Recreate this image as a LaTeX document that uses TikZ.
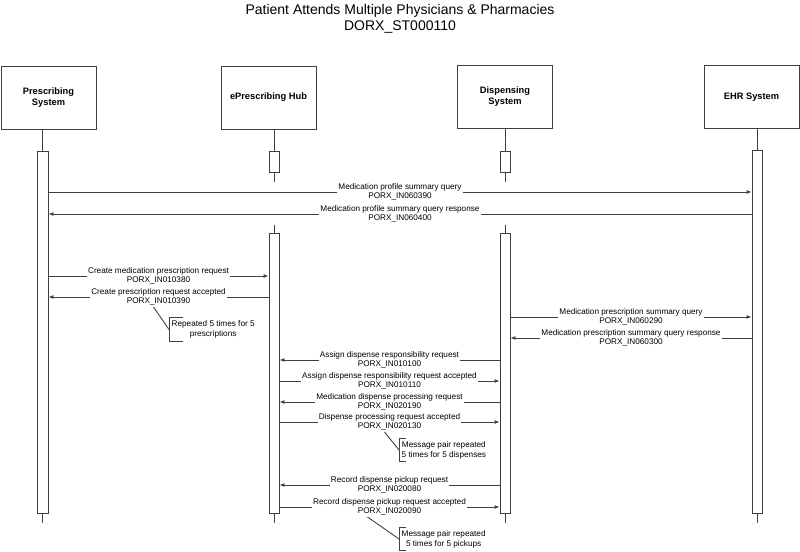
\documentclass[tikz,border=0pt]{standalone}
\usepackage{fontspec}
\setmainfont{Liberation Sans}
\usetikzlibrary{arrows.meta}
\definecolor{lc}{RGB}{64,64,64}
\begin{document}
\begin{tikzpicture}[x=1bp,y=-1bp,
 ln/.style={draw=lc, line width=0.9bp},
 hdr/.style={ln, minimum width=95bp, minimum height=63bp, inner sep=0pt, align=center, font=\fontsize{9.3bp}{11bp}\selectfont\bfseries},
 bar/.style={ln, fill=white, minimum width=10bp, inner sep=0pt},
 msg/.style={ln, -{Latex[length=5bp,width=4bp]}},
 lbl/.style={fill=white, inner xsep=1bp, inner ysep=1bp, align=center, font=\fontsize{8.2bp}{9.5bp}\selectfont},
 note/.style={anchor=west, minimum height=23bp, inner xsep=2.5bp, inner ysep=0pt, align=center, font=\fontsize{8.2bp}{10bp}\selectfont},
]
\useasboundingbox (0,0) rectangle (800,552);

% title
\node[align=center, font=\fontsize{14bp}{16bp}\selectfont] (title) at (400,19)
  {Patient Attends Multiple Physicians \& Pharmacies\\DORX\_ST000110};

% headers
\node[hdr] (ph) at (48.5,97.5) {Prescribing\\System};
\node[hdr] (hh) at (268.5,97.5) {ePrescribing Hub};
\node[hdr] (dh) at (505,97) {Dispensing\\System};
\node[hdr] (eh) at (751.5,97) {EHR System};

% activation bars
\node[bar, minimum width=11bp, minimum height=362bp] (pb) at (42.5,332) {};
\node[bar, minimum height=363bp] (eb) at (757,331.5) {};
\node[bar, minimum height=21bp] (hb1) at (274,161.5) {};
\node[bar, minimum height=21bp] (db1) at (505,162) {};
\node[bar, minimum height=280bp] (hb2) at (274,373) {};
\node[bar, minimum height=280bp] (db2) at (505,373) {};

% lifeline free ends
\coordinate (pe) at (42.5,523);
\coordinate (ee) at (757,523);
\coordinate (h1e) at (274,182);
\coordinate (d1e) at (505,182);
\coordinate (h2s) at (274,225);
\coordinate (d2s) at (505,225);
\coordinate (he) at (274,523);
\coordinate (de) at (505,523);

% lifelines
\draw[ln] (ph.south -| pb) -- (pb.north);
\draw[ln] (pb.south) -- (pe);
\draw[ln] (eh.south -| eb) -- (eb.north);
\draw[ln] (eb.south) -- (ee);
\draw[ln] (hh.south -| hb1) -- (hb1.north);
\draw[ln] (hb1.south) -- (h1e);
\draw[ln] (h2s) -- (hb2.north);
\draw[ln] (hb2.south) -- (he);
\draw[ln] (dh.south -| db1) -- (db1.north);
\draw[ln] (db1.south) -- (d1e);
\draw[ln] (d2s) -- (db2.north);
\draw[ln] (db2.south) -- (de);

% message levels
\coordinate (y1) at (0,192);
\coordinate (y2) at (0,214);
\coordinate (y3) at (0,276);
\coordinate (y4) at (0,297);
\coordinate (y5) at (0,317);
\coordinate (y6) at (0,338);
\coordinate (y7) at (0,360);
\coordinate (y8) at (0,381);
\coordinate (y9) at (0,402);
\coordinate (y10) at (0,422);
\coordinate (y11) at (0,485);
\coordinate (y12) at (0,507);

% messages
\draw[msg] (pb.east |- y1) -- node[lbl] (l1) {Medication profile summary query\\PORX\_IN060390} (eb.west |- y1);
\draw[msg] (eb.west |- y2) -- node[lbl] (l2) {Medication profile summary query response\\PORX\_IN060400} (pb.east |- y2);
\draw[msg] (pb.east |- y3) -- node[lbl] (l3) {Create medication prescription request\\PORX\_IN010380} (hb2.west |- y3);
\draw[msg] (hb2.west |- y4) -- node[lbl] (l4) {Create prescription request accepted\\PORX\_IN010390} (pb.east |- y4);
\draw[msg] (db2.east |- y5) -- node[lbl] (l5) {Medication prescription summary query\\PORX\_IN060290} (eb.west |- y5);
\draw[msg] (eb.west |- y6) -- node[lbl] (l6) {Medication prescription summary query response\\PORX\_IN060300} (db2.east |- y6);
\draw[msg] (db2.west |- y7) -- node[lbl] (l7) {Assign dispense responsibility request\\PORX\_IN010100} (hb2.east |- y7);
\draw[msg] (hb2.east |- y8) -- node[lbl] (l8) {Assign dispense responsibility request accepted\\PORX\_IN010110} (db2.west |- y8);
\draw[msg] (db2.west |- y9) -- node[lbl] (l9) {Medication dispense processing request\\PORX\_IN020190} (hb2.east |- y9);
\draw[msg] (hb2.east |- y10) -- node[lbl] (l10) {Dispense processing request accepted\\PORX\_IN020130} (db2.west |- y10);
\draw[msg] (db2.west |- y11) -- node[lbl] (l11) {Record dispense pickup request\\PORX\_IN020080} (hb2.east |- y11);
\draw[msg] (hb2.east |- y12) -- node[lbl] (l12) {Record dispense pickup request accepted\\PORX\_IN020090} (db2.west |- y12);

% notes
\node[note] (n1) at (169,329.5) {Repeated 5 times for 5\\prescriptions};
\draw[ln] ([xshift=14bp]n1.north west) -- (n1.north west) -- (n1.south west) -- ([xshift=14bp]n1.south west);
\draw[ln] ([xshift=-5bp]l4.south) -- (n1.west);

\node[note] (n2) at (399,450) {Message pair repeated\\5 times for 5 dispenses};
\draw[ln] ([xshift=7bp]n2.north west) -- (n2.north west) -- (n2.south west) -- ([xshift=7bp]n2.south west);
\draw[ln] ([xshift=-5bp]l10.south) -- (n2.west);

\node[note] (n3) at (399,539) {Message pair repeated\\5 times for 5 pickups};
\draw[ln] ([xshift=7bp]n3.north west) -- (n3.north west) -- (n3.south west) -- ([xshift=7bp]n3.south west);
\draw[ln] ([xshift=-22bp]l12.south) -- (n3.west);
\end{tikzpicture}
\end{document}
